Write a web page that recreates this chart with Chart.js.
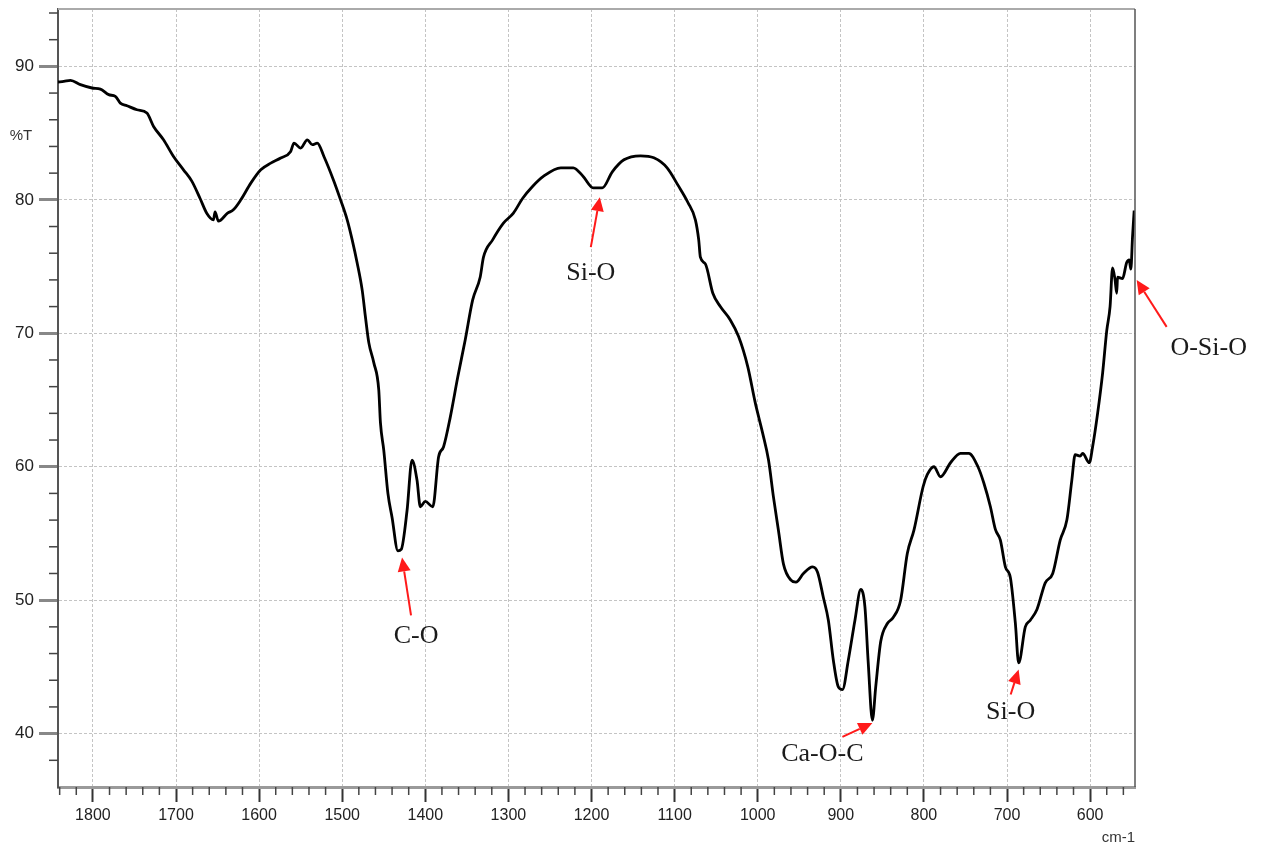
<!DOCTYPE html>
<html>
<head>
<meta charset="utf-8">
<script src="https://cdn.jsdelivr.net/npm/chart.js@4.4.1/dist/chart.umd.min.js"></script>
<style>
  html, body { margin: 0; padding: 0; background: #fff; }
  #wrap { width: 1261px; height: 857px; position: relative; }
</style>
</head>
<body>
<div id="wrap"><canvas id="ftir"></canvas></div>
<script>
// wavenumber (cm-1) and transmittance (%T)
var wavenumber = [1842,1835,1827,1815,1801,1791,1781,1773,1767,1759,1747,1735,1727,1715,1703,1691,1681,1671,1663,1655,1653,1649,1638,1631,1622,1610,1598,1586,1574,1562,1558,1550,1542,1536,1530,1522,1510,1502,1494,
  1488,1482,1476,1472,1468,1462,1456,1454,1450,1445,1440,1433,1429,1422,1416,1410,1406,1400,1391,1384,1378,1370,1361,1352,1343,1334,1330,1319,1306,1294,1283,1271,1258,1237,1222,1210,1198,1187,1175,1161,1141,1125,1109,1096,1084,1075,1071,1069,1063,1054,1045,1033,1023,1012,1003,994,987,981,975,969,
  960,954,945,934,928,921,915,909,903,898,891,883,876,871,867,862,858,852,844,837,828,820,812,801,796,788,780,768,756,746,735,728,720,714,708,702,696,690,686,678,672,664,654,645,636,628,622,618,612,609,601,597,591,585,580,576,573,570,568,567,561,556,553,551,549,547];
var transmittance = [88.83,88.87,88.95,88.63,88.38,88.3,87.88,87.75,87.25,87.05,86.75,86.5,85.5,84.5,83.25,82.25,81.4,80.1,79.0,78.5,79.1,78.4,79.0,79.25,80.0,81.25,82.25,82.75,83.13,83.63,84.25,83.88,84.5,84.13,84.25,83.25,81.4,80.0,78.5,
  77.0,75.27,73.25,71.2,69.3,67.8,65.75,63.3,61.25,58.0,56.2,53.7,53.8,56.7,60.5,59.0,57.0,57.4,57.0,60.75,61.5,63.7,66.7,69.5,72.5,74.2,75.7,77.0,78.25,79.0,80.1,81.0,81.75,82.4,82.4,81.75,80.9,80.9,82.1,83.0,83.3,83.15,82.4,81.1,79.8,78.5,77.0,75.7,75.2,73.0,72.0,71.0,69.75,67.5,64.8,62.5,60.5,57.7,55.2,52.7,
  51.5,51.35,52.0,52.5,52.1,50.2,48.5,45.5,43.5,43.3,45.5,48.5,50.8,49.5,45.3,41.0,43.5,46.9,48.25,48.7,50.0,53.5,55.25,58.5,59.4,60.0,59.25,60.3,61.0,61.0,60.0,58.8,57.0,55.3,54.5,52.5,51.7,48.3,45.3,48.0,48.5,49.3,51.3,52.0,54.5,56.0,59.0,60.9,60.8,61.0,60.3,61.5,64.0,67.0,70.2,72.0,74.9,74.0,73.0,74.2,74.1,75.3,75.5,74.8,77.2,79.2];

var xTicks = [600,700,800,900,1000,1100,1200,1300,1400,1500,1600,1700,1800];
var yTicks = [40,50,60,70,80,90];

// band labels and the point each arrow points at
var bandLabels = ['C-O','Si-O','Ca-O-C','Si-O','O-Si-O'];
var bandWn = [1428,1190,862,686,544];
var bandT = [53.2,80.2,40.8,44.8,74.0];

var points = wavenumber.map(function(w, i){ return {x: w, y: transmittance[i]}; });

// arrow tail / label offsets in pixels from the tip
var arrowOffsets = [
  {tx: 9,  ty: 58, lx: 14, ly: 79},
  {tx: -9, ty: 50, lx: -9, ly: 76},
  {tx: -30,ty: 14, lx: -50,ly: 31},
  {tx: -8, ty: 25, lx: -8, ly: 43},
  {tx: 30, ty: 47, lx: 72, ly: 68}
];

function drawArrow(ctx, x1, y1, x2, y2){
  var ang = Math.atan2(y2 - y1, x2 - x1);
  var hl = 14, hw = 6.5;
  var bx = x2 - Math.cos(ang) * hl, by = y2 - Math.sin(ang) * hl;
  ctx.beginPath();
  ctx.moveTo(x1, y1);
  ctx.lineTo(bx, by);
  ctx.stroke();
  ctx.beginPath();
  ctx.moveTo(x2, y2);
  ctx.lineTo(bx + Math.sin(ang) * hw, by - Math.cos(ang) * hw);
  ctx.lineTo(bx - Math.sin(ang) * hw, by + Math.cos(ang) * hw);
  ctx.closePath();
  ctx.fill();
}

var extras = {
  id: 'extras',
  afterDraw: function(chart){
    var ctx = chart.ctx, a = chart.chartArea;
    var xs = chart.scales.x, ys = chart.scales.y;
    ctx.save();
    // top and right frame
    ctx.lineWidth = 2;
    ctx.strokeStyle = '#aaaaaa';
    ctx.beginPath(); ctx.moveTo(a.left, a.top); ctx.lineTo(a.right, a.top); ctx.stroke();
    ctx.lineWidth = 1.5;
    ctx.strokeStyle = '#555555';
    ctx.beginPath(); ctx.moveTo(a.right, a.top); ctx.lineTo(a.right, a.bottom); ctx.stroke();

    // minor ticks
    ctx.strokeStyle = '#444';
    ctx.lineWidth = 1.5;
    for (var w = 560; w <= 1840; w += 20){
      if (w % 100 === 0) continue;
      var px = xs.getPixelForValue(w);
      ctx.beginPath(); ctx.moveTo(px, a.bottom); ctx.lineTo(px, a.bottom + 8); ctx.stroke();
    }
    for (var t = 38; t <= 94; t += 2){
      if (t % 10 === 0) continue;
      var py = ys.getPixelForValue(t);
      ctx.beginPath(); ctx.moveTo(a.left - 9, py); ctx.lineTo(a.left, py); ctx.stroke();
    }

    // axis titles
    ctx.fillStyle = '#333';
    ctx.font = '15px "Liberation Sans", Arial, sans-serif';
    ctx.textAlign = 'center';
    ctx.textBaseline = 'middle';
    ctx.fillText('%T', a.left - 37, ys.getPixelForValue(84.8));
    ctx.textAlign = 'right';
    ctx.fillText('cm-1', a.right, a.bottom + 51);

    // band annotations
    ctx.strokeStyle = '#ff1a1a';
    ctx.fillStyle = '#ff1a1a';
    ctx.lineWidth = 2;
    bandLabels.forEach(function(lbl, i){
      var x = xs.getPixelForValue(bandWn[i]), y = ys.getPixelForValue(bandT[i]);
      var o = arrowOffsets[i];
      drawArrow(ctx, x + o.tx, y + o.ty, x, y);
    });
    ctx.fillStyle = '#1a1a1a';
    ctx.font = '26px "Liberation Serif", "Times New Roman", serif';
    ctx.textAlign = 'center';
    bandLabels.forEach(function(lbl, i){
      var x = xs.getPixelForValue(bandWn[i]), y = ys.getPixelForValue(bandT[i]);
      var o = arrowOffsets[i];
      ctx.fillText(lbl, x + o.lx, y + o.ly);
    });
    ctx.restore();
  }
};

new Chart(document.getElementById('ftir'), {
  type: 'line',
  data: {
    datasets: [{
      data: points,
      borderColor: '#000',
      borderWidth: 2.8,
      pointRadius: 0,
      cubicInterpolationMode: 'monotone',
      fill: false
    }]
  },
  options: {
    responsive: true,
    maintainAspectRatio: false,
    animation: false,
    layout: { padding: { left: 0, right: 126, top: 9, bottom: 0 } },
    plugins: { legend: { display: false }, tooltip: { enabled: false } },
    scales: {
      x: {
        type: 'linear',
        reverse: true,
        min: 546,
        max: 1842,
        afterBuildTicks: function(s){ s.ticks = xTicks.map(function(v){ return {value: v}; }); },
        afterFit: function(s){ s.height = 70; s.paddingLeft = 0; s.paddingRight = 0; },
        grid: { color: '#c4c4c4', lineWidth: 1, tickColor: '#333', tickWidth: 2, tickLength: 15 },
        border: { color: '#9a9a9a', width: 3, dash: [3, 2] },
        ticks: { color: '#222', font: { family: 'Liberation Sans', size: 16 }, padding: 4, maxRotation: 0, autoSkip: false,
          callback: function(v){ return String(v); } }
      },
      y: {
        min: 36,
        max: 94.3,
        afterBuildTicks: function(s){ s.ticks = yTicks.map(function(v){ return {value: v}; }); },
        afterFit: function(s){ s.width = 58; s.paddingTop = 0; s.paddingBottom = 0; },
        grid: { color: '#c4c4c4', lineWidth: 1, tickColor: '#888', tickWidth: 3, tickLength: 19 },
        border: { color: '#555', width: 2, dash: [3, 2] },
        ticks: { color: '#222', font: { family: 'Liberation Sans', size: 17 }, padding: 5,
          callback: function(v){ return String(v); } }
      }
    }
  },
  plugins: [extras]
});
</script>
</body>
</html>
